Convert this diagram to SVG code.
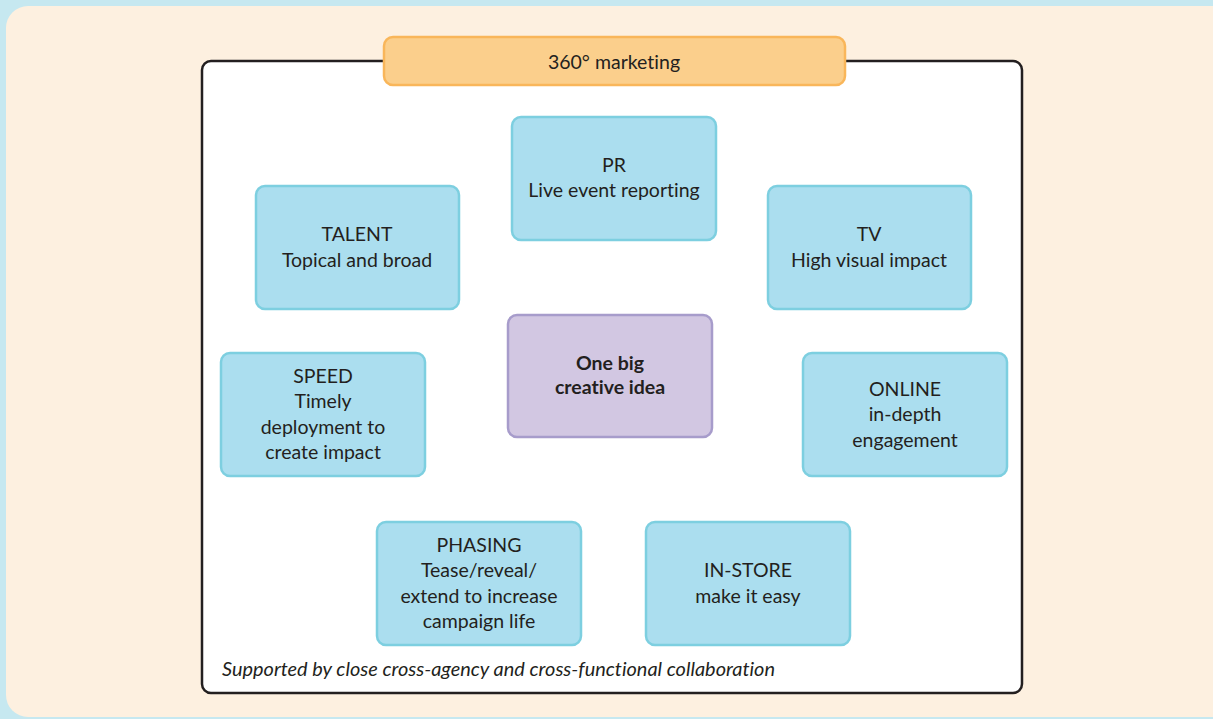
<svg xmlns="http://www.w3.org/2000/svg" width="1213" height="719" viewBox="0 0 1213 719">
<style>
.t{font-family:Lato,"Open Sans","Liberation Sans",sans-serif;font-size:19.5px;fill:#231f20;text-anchor:middle;font-variant-ligatures:none}
.b{font-weight:bold}
.n{fill:#abdeef;stroke:#7dcfe0;stroke-width:2.5}
</style>
<rect x="0" y="0" width="1213" height="719" fill="#c6e8f0"/>
<rect x="6" y="6" width="1230" height="711" rx="22" fill="#fdf0e0"/>
<rect x="202" y="61" width="820" height="632" rx="9" fill="#fff" stroke="#231f20" stroke-width="2.5"/>
<g id="title">
<rect x="384" y="37" width="461" height="48" rx="9" fill="#fbcf8c" stroke="#f9b65a" stroke-width="2.5"/>
<text class="t" x="614" y="69">360° marketing</text>
</g>
<g id="connectors"></g>
<g id="pr"><rect class="n" x="512" y="117" width="204" height="123" rx="9"/>
<text class="t" x="614" y="172">PR</text><text class="t" x="614" y="197">Live event reporting</text></g>
<g id="talent"><rect class="n" x="256" y="186" width="203" height="123" rx="9"/>
<text class="t" x="357" y="241">TALENT</text><text class="t" x="357" y="267">Topical and broad</text></g>
<g id="tv"><rect class="n" x="768" y="186" width="203" height="123" rx="9"/>
<text class="t" x="869" y="241">TV</text><text class="t" x="869" y="267">High visual impact</text></g>
<g id="speed"><rect class="n" x="221" y="353" width="204" height="123" rx="9"/>
<text class="t" x="323" y="383">SPEED</text><text class="t" x="323" y="408">Timely</text><text class="t" x="323" y="434">deployment to</text><text class="t" x="323" y="459">create impact</text></g>
<g id="center"><rect x="508" y="315" width="204" height="122" rx="9" fill="#d2c7e2" stroke="#a79ccb" stroke-width="2.5"/>
<text class="t b" x="610" y="370">One big</text><text class="t b" x="610" y="394">creative idea</text></g>
<g id="online"><rect class="n" x="803" y="353" width="204" height="123" rx="9"/>
<text class="t" x="905" y="396">ONLINE</text><text class="t" x="905" y="421">in-depth</text><text class="t" x="905" y="447">engagement</text></g>
<g id="phasing"><rect class="n" x="377" y="522" width="204" height="123" rx="9"/>
<text class="t" x="479" y="552">PHASING</text><text class="t" x="479" y="577">Tease/reveal/</text><text class="t" x="479" y="603">extend to increase</text><text class="t" x="479" y="628">campaign life</text></g>
<g id="instore"><rect class="n" x="646" y="522" width="204" height="123" rx="9"/>
<text class="t" x="748" y="577">IN-STORE</text><text class="t" x="748" y="603">make it easy</text></g>
<text x="222" y="676" font-family="Lato,'Open Sans','Liberation Sans',sans-serif" font-style="italic" font-size="19.5" fill="#231f20" textLength="553" lengthAdjust="spacingAndGlyphs" style="font-variant-ligatures:none">Supported by close cross-agency and cross-functional collaboration</text>
</svg>
